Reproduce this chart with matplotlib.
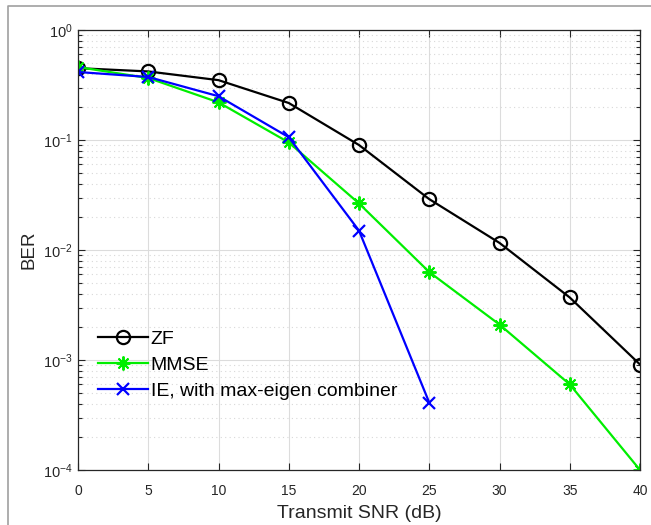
import matplotlib
matplotlib.use("Agg")
import matplotlib.pyplot as plt
from matplotlib.lines import Line2D
from matplotlib.ticker import LogLocator, NullFormatter, FixedLocator

plt.rcParams['font.family'] = ['Liberation Sans', 'DejaVu Sans']
plt.rcParams['mathtext.fontset'] = 'custom'
plt.rcParams['mathtext.rm'] = 'Liberation Sans'

snr = [0, 5, 10, 15, 20, 25, 30, 35, 40]
snr_ie = [0, 5, 10, 15, 20, 25]
ber_zf = [0.45, 0.42, 0.35, 0.217, 0.090, 0.0290, 0.0116, 0.00370, 0.00091]
ber_mmse = [0.46, 0.366, 0.22, 0.095, 0.0265, 0.0063, 0.0021, 0.00060, 0.0001]
ber_ie = [0.415, 0.374, 0.25, 0.106, 0.0150, 0.00041]

fig = plt.figure(figsize=(6.51, 5.25), dpi=100)
ax = fig.add_axes([78/651, 1 - 470/525, (640 - 78)/651, (470 - 30)/525])

ax.semilogy(snr, ber_zf, color='black', lw=1.6, marker='o', ms=9.5, mfc='none', mew=1.6, label='ZF')
ax.semilogy(snr, ber_mmse, color='#00ee00', lw=1.6, marker=(8, 2, 0), ms=10, mew=1.4, label='MMSE')
ax.semilogy(snr_ie, ber_ie, color='#0000ff', lw=1.6, marker='x', ms=8, mew=1.6, label='IE, with max-eigen combiner')

ax.set_xlim(0, 40)
ax.set_ylim(1e-4, 1)
ax.xaxis.set_major_locator(FixedLocator(snr))
ax.yaxis.set_major_locator(LogLocator(base=10, numticks=10))
ax.yaxis.set_minor_locator(LogLocator(base=10, subs=range(2, 10), numticks=10))
ax.yaxis.set_minor_formatter(NullFormatter())

ax.grid(True, which='major', color='#dcdcdc', lw=0.8, ls='-')
ax.grid(True, which='minor', axis='y', color='#d8d8d8', lw=0.8, ls=(0, (1, 3)))
ax.set_axisbelow(True)

ax.tick_params(which='both', direction='in', top=True, right=True, labelsize=10, colors='#262626', width=0.8)
ax.tick_params(which='major', length=5)
ax.tick_params(axis='x', which='major', pad=10)
ax.tick_params(axis='y', which='major', pad=4, labelsize=10.5)
ax.tick_params(which='minor', length=3)
for sp in ax.spines.values():
    sp.set_color('#262626')
    sp.set_linewidth(0.9)

ax.set_xlabel('Transmit SNR (dB)', fontsize=14, color='#262626', labelpad=5)
ax.set_ylabel('BER', fontsize=13.5, color='#262626', labelpad=4)

ax.legend(loc='upper left', bbox_to_anchor=(0.0356, 0.318), frameon=False, fontsize=14,
          handlelength=2.55, handletextpad=0.15, labelspacing=0.43, borderaxespad=0, borderpad=0)

fig.add_artist(Line2D([8/651, 8/651, 1.0], [0.0, 1 - 6/525, 1 - 6/525],
                      transform=fig.transFigure, color='#a0a0a0', lw=1.2))

fig.savefig('out.png', dpi=100)
